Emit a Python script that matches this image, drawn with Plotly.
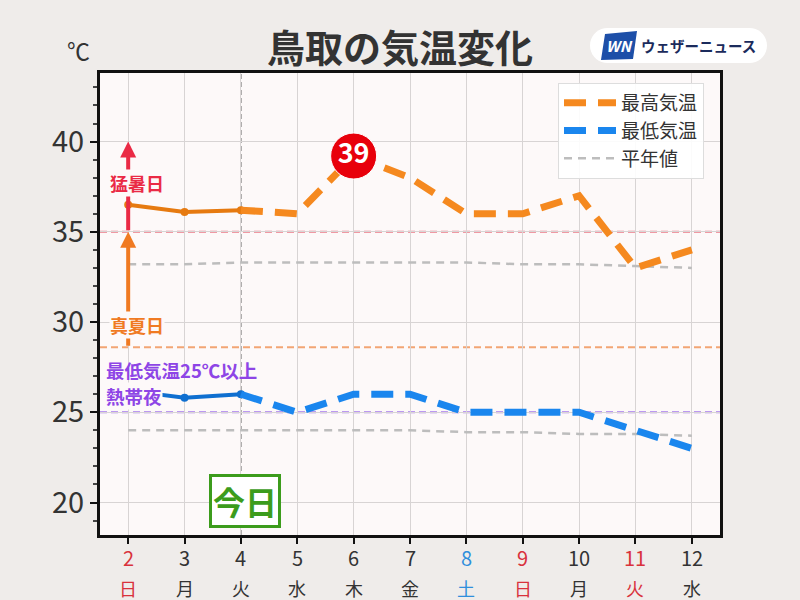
import plotly.graph_objects as go
import math

# ---------------- data ----------------
days = [2, 3, 4, 5, 6, 7, 8, 9, 10, 11, 12]
weekdays = ["日", "月", "火", "水", "木", "金", "土", "日", "月", "火", "水"]
day_colors = ["#d9323c", "#333333", "#333333", "#333333", "#333333", "#333333",
              "#2f8fdc", "#d9323c", "#333333", "#d9323c", "#333333"]
high = [36.5, 36.1, 36.2, 36.0, 39.2, 38.0, 36.0, 36.0, 37.0, 33.0, 34.0]
low = [26.2, 25.8, 26.0, 25.0, 26.0, 26.0, 25.0, 25.0, 25.0, 24.0, 23.0]
normal_high = [33.2, 33.2, 33.3, 33.3, 33.3, 33.3, 33.3, 33.2, 33.2, 33.1, 33.0]
normal_low = [24.0, 24.0, 24.0, 24.0, 24.0, 24.0, 23.9, 23.9, 23.8, 23.8, 23.7]
today = 4
mosho = 35.0      # 猛暑日
manatsu = 28.6    # 真夏日 line
nettaiya = 25.0   # 熱帯夜
y_ticks = [20, 25, 30, 35, 40]

FONT = "Noto Sans CJK JP"
ORANGE = "#f5891f"
ORANGE_D = "#e67a10"
BLUE = "#1a86ee"
BLUE_D = "#0f6fd0"
PLOT_BG = "#fdf9f9"
PAPER_BG = "#efecea"

# plot area in pixels
L, R, T, B = 100, 720, 73, 535
W, H = 800, 600

def px(xp):
    return (xp - L) / (R - L)

def py(yp):
    return (B - yp) / (B - T)

ti = days.index(today)

fig = go.Figure()

# normal values
fig.add_trace(go.Scatter(x=days, y=normal_high, mode="lines",
                         line=dict(color="#bdbdbd", width=2.5, dash="8px,6px"),
                         name="平年値", legendrank=3))
fig.add_trace(go.Scatter(x=days, y=normal_low, mode="lines",
                         line=dict(color="#bdbdbd", width=2.5, dash="8px,6px"),
                         showlegend=False))

# observed (solid) parts
fig.add_trace(go.Scatter(x=days[:ti + 1], y=high[:ti + 1], mode="lines+markers",
                         line=dict(color=ORANGE_D, width=4),
                         marker=dict(size=8, color=ORANGE_D), showlegend=False))
fig.add_trace(go.Scatter(x=days[:ti + 1], y=low[:ti + 1], mode="lines+markers",
                         line=dict(color=BLUE_D, width=4),
                         marker=dict(size=8, color=BLUE_D), showlegend=False))

# forecast (dashed) parts
fig.add_trace(go.Scatter(x=days[ti:], y=high[ti:], mode="lines",
                         line=dict(color=ORANGE, width=7, dash="22px,12px"),
                         name="最高気温", legendrank=1))
fig.add_trace(go.Scatter(x=days[ti:], y=low[ti:], mode="lines",
                         line=dict(color=BLUE, width=7, dash="22px,12px"),
                         name="最低気温", legendrank=2))

# max marker
imax = high.index(max(high))
fig.add_trace(go.Scatter(x=[days[imax]], y=[high[imax]], mode="markers+text",
                         marker=dict(size=46, color="#e8000b", line=dict(color="white", width=1)),
                         text=[str(int(high[imax]))], textposition="middle center",
                         textfont=dict(family=FONT, size=27, color="white", weight="bold"),
                         showlegend=False))

shapes = []
# threshold lines
for yv, col in [(mosho, "#ec7a86"), (manatsu, "#f2a574"), (nettaiya, "#a779ee")]:
    shapes.append(dict(type="line", xref="paper", yref="y", x0=0, x1=1, y0=yv, y1=yv,
                       line=dict(color=col, width=2, dash="7px,4px"), layer="below"))
# today line
shapes.append(dict(type="line", xref="x", yref="paper", x0=today, x1=today, y0=0, y1=1,
                   line=dict(color="#666666", width=1.2, dash="5px,3px"), layer="below"))

# logo pill
def stadium(x0, y0, x1, y1):
    r = (y1 - y0) / 2
    pts = []
    cx1, cx0, cy = x1 - r, x0 + r, (y0 + y1) / 2
    for i in range(0, 19):
        a = -math.pi / 2 + math.pi * i / 18
        pts.append((cx1 + r * math.cos(a), cy + r * math.sin(a)))
    for i in range(0, 19):
        a = math.pi / 2 + math.pi * i / 18
        pts.append((cx0 + r * math.cos(a), cy + r * math.sin(a)))
    return "M " + " L ".join(f"{px(a):.5f},{py(b):.5f}" for a, b in pts) + " Z"

shapes.append(dict(type="path", xref="paper", yref="paper", path=stadium(590, 28, 767, 63),
                   fillcolor="white", line=dict(width=0), layer="above"))
# WN blue mark
wn = [(605, 34), (637, 31), (633, 59), (601, 60)]
shapes.append(dict(type="path", xref="paper", yref="paper",
                   path="M " + " L ".join(f"{px(a):.5f},{py(b):.5f}" for a, b in wn) + " Z",
                   fillcolor="#1d4fa8", line=dict(width=0), layer="above"))

annotations = []
# title
annotations.append(dict(text="<b>鳥取の気温変化</b>", xref="paper", yref="paper",
                        x=px(400), y=py(45), xanchor="center", yanchor="middle", showarrow=False,
                        font=dict(family=FONT, size=38, color="#333333")))
annotations.append(dict(text="℃", xref="paper", yref="paper", x=px(78), y=py(50),
                        xanchor="center", yanchor="middle",
                        showarrow=False, font=dict(family=FONT, size=23, color="#333333")))
annotations.append(dict(text="<b><i>WN</i></b>", xref="paper", yref="paper", x=px(619), y=py(46),
                        xanchor="center", yanchor="middle",
                        showarrow=False, font=dict(family=FONT, size=15, color="white")))
annotations.append(dict(text="<b>ウェザーニュース</b>", xref="paper", yref="paper", x=px(639), y=py(46),
                        xanchor="left", yanchor="middle", showarrow=False,
                        font=dict(family=FONT, size=14.5, color="#1b2b5c")))

# x tick labels (two rows)
for d, wd, c in zip(days, weekdays, day_colors):
    annotations.append(dict(text=str(d), x=d, xref="x", yref="paper", y=0, yanchor="middle",
                            yshift=-22, showarrow=False,
                            font=dict(family=FONT, size=20, color=c)))
    annotations.append(dict(text=wd, x=d, xref="x", yref="paper", y=0, yanchor="middle",
                            yshift=-53, showarrow=False,
                            font=dict(family=FONT, size=18, color=c)))

# arrows
annotations.append(dict(x=days[0], y=40, ax=days[0], ay=mosho, xref="x", yref="y",
                        axref="x", ayref="y", showarrow=True, arrowhead=2, arrowsize=0.8,
                        arrowwidth=4, arrowcolor="#ea2a45", text=""))
annotations.append(dict(x=days[0], y=mosho, ax=days[0], ay=manatsu, xref="x", yref="y",
                        axref="x", ayref="y", showarrow=True, arrowhead=2, arrowsize=0.8,
                        arrowwidth=4, arrowcolor="#f07a22", text=""))
annotations.append(dict(text="<b>猛暑日</b>", x=2.16, y=37.7, xref="x", yref="y",
                        showarrow=False, bgcolor=PLOT_BG, borderpad=0,
                        font=dict(family=FONT, size=18, color="#ea2a45")))
annotations.append(dict(text="<b>真夏日</b>", x=2.16, y=29.85, xref="x", yref="y",
                        showarrow=False, bgcolor=PLOT_BG, borderpad=0,
                        font=dict(family=FONT, size=18, color="#f07a22")))
annotations.append(dict(text="<b>最低気温25℃以上</b>", x=1.59, y=27.32, xref="x", yref="y",
                        xanchor="left", showarrow=False, borderpad=0,
                        font=dict(family=FONT, size=18.5, color="#8e45e6")))
annotations.append(dict(text="<b>熱帯夜</b>", x=1.59, y=25.9, xref="x", yref="y",
                        xanchor="left", showarrow=False, bgcolor=PLOT_BG, borderpad=0,
                        font=dict(family=FONT, size=18.5, color="#8e45e6")))
# today label
annotations.append(dict(text="<b>今日</b>", x=4.07, y=20.1, xref="x", yref="y",
                        showarrow=False, bgcolor="white", bordercolor="#3c9c1c", borderwidth=3,
                        borderpad=1, font=dict(family=FONT, size=32, color="#3c9c1c")))

fig.update_layout(
    width=W, height=H,
    margin=dict(l=L, r=W - R, t=T, b=H - B),
    paper_bgcolor=PAPER_BG, plot_bgcolor=PLOT_BG,
    font=dict(family=FONT, color="#333333"),
    shapes=shapes, annotations=annotations,
    legend=dict(x=px(558), y=py(83), xanchor="left", yanchor="top",
                bgcolor="rgba(255,255,255,0.9)", bordercolor="#dddddd", borderwidth=1,
                font=dict(family=FONT, size=19, color="#333333"),
                traceorder="normal", itemwidth=52, tracegroupgap=2),
    showlegend=True,
)
fig.update_xaxes(range=[1.5, 12.5], tickvals=days, ticktext=[""] * len(days),
                 ticks="outside", ticklen=6, tickwidth=2, tickcolor="#111111",
                 showgrid=True, gridcolor="#d8d4d4", gridwidth=1,
                 showline=True, linecolor="#111111", linewidth=3, mirror=True, zeroline=False)
fig.update_yaxes(range=[18.2, 43.8], tickvals=y_ticks,
                 ticks="outside", ticklen=7, tickwidth=1.5, tickcolor="#111111",
                 tickfont=dict(family=FONT, size=29, color="#333333"),
                 minor=dict(dtick=1, ticks="outside", ticklen=4, tickcolor="#444444", showgrid=False),
                 showgrid=True, gridcolor="#d8d4d4", gridwidth=1,
                 showline=True, linecolor="#111111", linewidth=3, mirror=True, zeroline=False)

fig.write_html("out.html", config={"displayModeBar": False},
               post_script="document.body.style.margin='0';")
